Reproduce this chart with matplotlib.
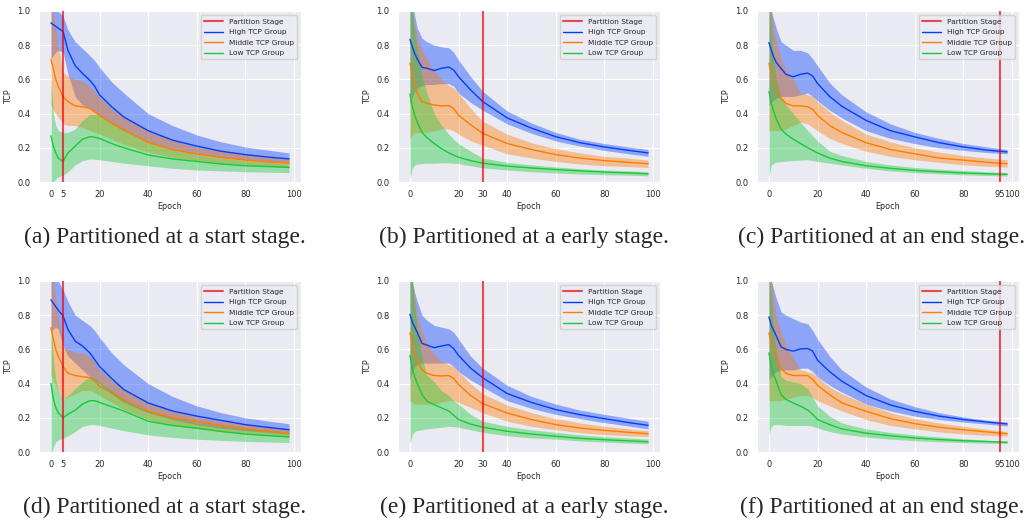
import matplotlib
matplotlib.use("Agg")
import matplotlib.pyplot as plt
import seaborn as sns

EPOCHS = [0, 1, 2, 3, 5, 7, 10, 13, 16, 18, 20, 25, 30, 40, 50, 60, 70, 80, 90, 98]

# ---- (a) partitioned at epoch 5 ----
A_HIGH    = [0.93, 0.92, 0.91, 0.90, 0.88, 0.77, 0.68, 0.635, 0.595, 0.56, 0.51, 0.44, 0.38, 0.30, 0.245, 0.21, 0.18, 0.16, 0.145, 0.135]
A_HIGH_HI = [1.15, 1.10, 1.05, 1.00, 0.97, 0.89, 0.82, 0.78, 0.74, 0.71, 0.67, 0.585, 0.52, 0.40, 0.33, 0.275, 0.235, 0.205, 0.185, 0.17]
A_HIGH_LO = [0.72, 0.74, 0.76, 0.77, 0.76, 0.63, 0.50, 0.45, 0.43, 0.41, 0.39, 0.34, 0.30, 0.235, 0.195, 0.165, 0.145, 0.13, 0.12, 0.11]
A_MID     = [0.717, 0.66, 0.60, 0.56, 0.50, 0.47, 0.445, 0.44, 0.43, 0.41, 0.39, 0.345, 0.305, 0.232, 0.19, 0.163, 0.143, 0.128, 0.117, 0.11]
A_MID_HI  = [1.10, 1.00, 0.90, 0.80, 0.64, 0.62, 0.60, 0.59, 0.56, 0.53, 0.50, 0.43, 0.38, 0.30, 0.245, 0.205, 0.18, 0.16, 0.145, 0.135]
A_MID_LO  = [0.45, 0.42, 0.40, 0.38, 0.34, 0.33, 0.33, 0.32, 0.30, 0.29, 0.28, 0.25, 0.22, 0.175, 0.145, 0.125, 0.11, 0.10, 0.092, 0.085]
A_LOW     = [0.27, 0.21, 0.17, 0.14, 0.12, 0.17, 0.21, 0.25, 0.265, 0.262, 0.255, 0.225, 0.20, 0.158, 0.135, 0.12, 0.105, 0.095, 0.09, 0.085]
A_LOW_HI  = [0.60, 0.40, 0.33, 0.30, 0.29, 0.29, 0.31, 0.36, 0.395, 0.395, 0.39, 0.35, 0.31, 0.235, 0.195, 0.16, 0.14, 0.125, 0.115, 0.105]
A_LOW_LO  = [-0.05, 0.0, 0.02, 0.03, 0.04, 0.06, 0.10, 0.125, 0.135, 0.133, 0.13, 0.12, 0.11, 0.095, 0.08, 0.07, 0.065, 0.06, 0.057, 0.055]

# ---- (b) partitioned at epoch 30 ----
B_HIGH    = [0.834, 0.79, 0.75, 0.72, 0.67, 0.665, 0.652, 0.665, 0.672, 0.655, 0.616, 0.538, 0.47, 0.375, 0.315, 0.265, 0.23, 0.205, 0.185, 0.17]
B_HIGH_HI = [1.25, 1.05, 0.97, 0.90, 0.84, 0.82, 0.80, 0.79, 0.785, 0.76, 0.713, 0.616, 0.53, 0.415, 0.345, 0.29, 0.25, 0.225, 0.205, 0.19]
B_HIGH_LO = [0.45, 0.50, 0.53, 0.55, 0.565, 0.57, 0.57, 0.575, 0.575, 0.56, 0.52, 0.465, 0.42, 0.34, 0.285, 0.24, 0.21, 0.185, 0.165, 0.15]
B_MID     = [0.695, 0.63, 0.57, 0.52, 0.47, 0.46, 0.45, 0.445, 0.447, 0.43, 0.39, 0.335, 0.284, 0.225, 0.19, 0.16, 0.14, 0.125, 0.115, 0.107]
B_MID_HI  = [1.30, 1.00, 0.92, 0.85, 0.77, 0.72, 0.65, 0.60, 0.565, 0.55, 0.52, 0.43, 0.355, 0.28, 0.23, 0.195, 0.17, 0.15, 0.14, 0.128]
B_MID_LO  = [0.25, 0.28, 0.29, 0.29, 0.29, 0.29, 0.30, 0.31, 0.31, 0.30, 0.28, 0.24, 0.215, 0.165, 0.14, 0.12, 0.105, 0.095, 0.09, 0.085]
B_LOW     = [0.515, 0.44, 0.39, 0.35, 0.29, 0.26, 0.225, 0.195, 0.17, 0.158, 0.145, 0.125, 0.11, 0.093, 0.082, 0.073, 0.065, 0.058, 0.053, 0.048]
B_LOW_HI  = [1.20, 1.00, 0.88, 0.78, 0.62, 0.52, 0.40, 0.33, 0.28, 0.25, 0.225, 0.18, 0.14, 0.115, 0.10, 0.088, 0.078, 0.07, 0.065, 0.06]
B_LOW_LO  = [0.02, 0.08, 0.10, 0.105, 0.108, 0.11, 0.11, 0.112, 0.112, 0.11, 0.108, 0.095, 0.083, 0.07, 0.06, 0.053, 0.047, 0.043, 0.04, 0.036]

# ---- (c) partitioned at epoch 95 ----
C_HIGH    = [0.816, 0.77, 0.73, 0.70, 0.664, 0.63, 0.615, 0.63, 0.637, 0.62, 0.576, 0.50, 0.443, 0.36, 0.30, 0.264, 0.23, 0.205, 0.186, 0.176]
C_HIGH_HI = [1.20, 1.00, 0.95, 0.90, 0.82, 0.80, 0.77, 0.77, 0.755, 0.72, 0.68, 0.58, 0.51, 0.41, 0.34, 0.29, 0.255, 0.225, 0.205, 0.19]
C_HIGH_LO = [0.45, 0.47, 0.48, 0.49, 0.50, 0.50, 0.50, 0.51, 0.52, 0.50, 0.475, 0.42, 0.375, 0.30, 0.255, 0.225, 0.20, 0.185, 0.172, 0.165]
C_MID     = [0.695, 0.63, 0.58, 0.55, 0.49, 0.46, 0.445, 0.445, 0.44, 0.425, 0.39, 0.33, 0.29, 0.23, 0.19, 0.165, 0.14, 0.128, 0.115, 0.107]
C_MID_HI  = [1.20, 1.00, 0.90, 0.82, 0.72, 0.66, 0.60, 0.52, 0.51, 0.50, 0.47, 0.41, 0.36, 0.28, 0.235, 0.20, 0.175, 0.155, 0.14, 0.13]
C_MID_LO  = [0.30, 0.30, 0.30, 0.30, 0.30, 0.31, 0.33, 0.35, 0.34, 0.32, 0.30, 0.255, 0.225, 0.18, 0.15, 0.13, 0.115, 0.10, 0.092, 0.087]
C_LOW     = [0.53, 0.46, 0.41, 0.37, 0.31, 0.28, 0.25, 0.225, 0.20, 0.185, 0.17, 0.14, 0.12, 0.095, 0.08, 0.068, 0.06, 0.053, 0.048, 0.045]
C_LOW_HI  = [1.10, 0.90, 0.70, 0.60, 0.50, 0.45, 0.40, 0.35, 0.30, 0.27, 0.24, 0.18, 0.155, 0.12, 0.10, 0.085, 0.075, 0.067, 0.06, 0.055]
C_LOW_LO  = [0.03, 0.10, 0.11, 0.115, 0.12, 0.122, 0.125, 0.128, 0.13, 0.125, 0.12, 0.11, 0.10, 0.08, 0.065, 0.055, 0.048, 0.042, 0.038, 0.035]

# ---- (d) partitioned at epoch 5 ----
D_HIGH    = [0.89, 0.87, 0.85, 0.83, 0.795, 0.717, 0.648, 0.62, 0.58, 0.54, 0.50, 0.43, 0.365, 0.287, 0.24, 0.21, 0.185, 0.16, 0.143, 0.13]
D_HIGH_HI = [1.15, 1.10, 1.05, 1.00, 0.95, 0.88, 0.80, 0.77, 0.74, 0.71, 0.67, 0.58, 0.51, 0.40, 0.325, 0.27, 0.23, 0.20, 0.18, 0.165]
D_HIGH_LO = [0.70, 0.72, 0.73, 0.72, 0.62, 0.56, 0.52, 0.48, 0.44, 0.42, 0.40, 0.34, 0.29, 0.23, 0.19, 0.16, 0.14, 0.125, 0.115, 0.105]
D_MID     = [0.727, 0.66, 0.60, 0.56, 0.50, 0.46, 0.447, 0.44, 0.435, 0.415, 0.385, 0.345, 0.307, 0.238, 0.20, 0.178, 0.155, 0.135, 0.12, 0.108]
D_MID_HI  = [1.10, 1.00, 0.90, 0.80, 0.61, 0.60, 0.58, 0.58, 0.56, 0.52, 0.48, 0.42, 0.37, 0.29, 0.24, 0.205, 0.18, 0.16, 0.145, 0.135]
D_MID_LO  = [0.45, 0.42, 0.39, 0.36, 0.31, 0.32, 0.34, 0.36, 0.36, 0.35, 0.33, 0.29, 0.25, 0.19, 0.155, 0.135, 0.12, 0.11, 0.10, 0.09]
D_LOW     = [0.40, 0.31, 0.26, 0.23, 0.20, 0.22, 0.245, 0.28, 0.30, 0.30, 0.29, 0.265, 0.24, 0.18, 0.155, 0.14, 0.12, 0.105, 0.095, 0.088]
D_LOW_HI  = [0.75, 0.55, 0.42, 0.36, 0.31, 0.33, 0.37, 0.41, 0.44, 0.43, 0.41, 0.36, 0.31, 0.24, 0.20, 0.17, 0.15, 0.135, 0.125, 0.115]
D_LOW_LO  = [-0.05, 0.03, 0.06, 0.07, 0.08, 0.095, 0.12, 0.15, 0.16, 0.16, 0.155, 0.14, 0.125, 0.10, 0.085, 0.075, 0.068, 0.062, 0.058, 0.055]

# ---- (e) partitioned at epoch 30 ----
E_HIGH    = [0.805, 0.76, 0.73, 0.70, 0.635, 0.625, 0.61, 0.62, 0.628, 0.605, 0.565, 0.49, 0.434, 0.342, 0.29, 0.248, 0.218, 0.195, 0.172, 0.156]
E_HIGH_HI = [1.20, 1.00, 0.93, 0.88, 0.80, 0.77, 0.74, 0.73, 0.72, 0.70, 0.66, 0.56, 0.49, 0.39, 0.325, 0.28, 0.245, 0.22, 0.197, 0.18]
E_HIGH_LO = [0.42, 0.47, 0.50, 0.51, 0.52, 0.52, 0.52, 0.52, 0.52, 0.50, 0.47, 0.42, 0.38, 0.30, 0.255, 0.22, 0.195, 0.172, 0.152, 0.135]
E_MID     = [0.697, 0.63, 0.57, 0.53, 0.48, 0.46, 0.447, 0.445, 0.447, 0.43, 0.395, 0.33, 0.283, 0.228, 0.19, 0.16, 0.14, 0.126, 0.115, 0.107]
E_MID_HI  = [1.20, 1.00, 0.90, 0.80, 0.70, 0.64, 0.57, 0.53, 0.51, 0.50, 0.47, 0.40, 0.34, 0.275, 0.23, 0.195, 0.17, 0.15, 0.135, 0.125]
E_MID_LO  = [0.30, 0.29, 0.28, 0.28, 0.28, 0.28, 0.28, 0.29, 0.30, 0.30, 0.29, 0.26, 0.23, 0.18, 0.15, 0.13, 0.113, 0.102, 0.095, 0.09]
E_LOW     = [0.565, 0.49, 0.44, 0.40, 0.336, 0.297, 0.277, 0.258, 0.24, 0.215, 0.19, 0.163, 0.145, 0.121, 0.105, 0.092, 0.08, 0.072, 0.065, 0.06]
E_LOW_HI  = [1.20, 1.00, 0.85, 0.72, 0.55, 0.45, 0.41, 0.36, 0.33, 0.30, 0.28, 0.22, 0.18, 0.15, 0.13, 0.115, 0.10, 0.09, 0.082, 0.075]
E_LOW_LO  = [0.05, 0.10, 0.12, 0.125, 0.13, 0.135, 0.14, 0.145, 0.15, 0.148, 0.145, 0.13, 0.115, 0.095, 0.083, 0.075, 0.065, 0.058, 0.052, 0.048]

# ---- (f) partitioned at epoch 95 ----
F_HIGH    = [0.79, 0.74, 0.71, 0.68, 0.615, 0.60, 0.59, 0.603, 0.605, 0.59, 0.537, 0.47, 0.414, 0.33, 0.275, 0.238, 0.21, 0.19, 0.175, 0.164]
F_HIGH_HI = [1.20, 1.00, 0.95, 0.90, 0.82, 0.80, 0.78, 0.76, 0.75, 0.71, 0.66, 0.56, 0.48, 0.38, 0.31, 0.265, 0.23, 0.205, 0.185, 0.175]
F_HIGH_LO = [0.42, 0.44, 0.46, 0.47, 0.48, 0.48, 0.48, 0.49, 0.49, 0.47, 0.44, 0.39, 0.35, 0.28, 0.24, 0.21, 0.19, 0.175, 0.163, 0.152]
F_MID     = [0.697, 0.63, 0.58, 0.55, 0.49, 0.46, 0.447, 0.447, 0.447, 0.425, 0.39, 0.335, 0.287, 0.238, 0.195, 0.166, 0.145, 0.13, 0.117, 0.107]
F_MID_HI  = [1.20, 1.00, 0.90, 0.80, 0.70, 0.63, 0.55, 0.48, 0.47, 0.46, 0.44, 0.38, 0.34, 0.28, 0.23, 0.195, 0.17, 0.15, 0.132, 0.12]
F_MID_LO  = [0.30, 0.30, 0.30, 0.30, 0.30, 0.31, 0.32, 0.33, 0.33, 0.32, 0.30, 0.27, 0.24, 0.19, 0.155, 0.135, 0.118, 0.105, 0.097, 0.093]
F_LOW     = [0.58, 0.50, 0.45, 0.414, 0.336, 0.307, 0.287, 0.268, 0.245, 0.22, 0.19, 0.16, 0.135, 0.11, 0.095, 0.082, 0.073, 0.066, 0.061, 0.057]
F_LOW_HI  = [1.10, 0.90, 0.70, 0.60, 0.44, 0.42, 0.41, 0.40, 0.37, 0.32, 0.27, 0.21, 0.17, 0.135, 0.115, 0.10, 0.088, 0.078, 0.068, 0.063]
F_LOW_LO  = [0.10, 0.15, 0.16, 0.16, 0.16, 0.155, 0.155, 0.155, 0.155, 0.15, 0.14, 0.12, 0.105, 0.088, 0.075, 0.066, 0.06, 0.055, 0.051, 0.05]

PARTITION = [5, 30, 95, 5, 30, 95]
XTICKS = [
    [0, 5, 20, 40, 60, 80, 100],
    [0, 20, 30, 40, 60, 80, 100],
    [0, 20, 40, 60, 80, 95, 100],
    [0, 5, 20, 40, 60, 80, 100],
    [0, 20, 30, 40, 60, 80, 100],
    [0, 20, 40, 60, 80, 95, 100],
]
CAPTIONS = [
    "(a) Partitioned at a start stage.",
    "(b) Partitioned at a early stage.",
    "(c) Partitioned at an end stage.",
    "(d) Partitioned at a start stage.",
    "(e) Partitioned at a early stage.",
    "(f) Partitioned at an end stage.",
]
GROUP_NAMES = ["High TCP Group", "Middle TCP Group", "Low TCP Group"]

PANELS = [
    [(A_HIGH, A_HIGH_LO, A_HIGH_HI), (A_MID, A_MID_LO, A_MID_HI), (A_LOW, A_LOW_LO, A_LOW_HI)],
    [(B_HIGH, B_HIGH_LO, B_HIGH_HI), (B_MID, B_MID_LO, B_MID_HI), (B_LOW, B_LOW_LO, B_LOW_HI)],
    [(C_HIGH, C_HIGH_LO, C_HIGH_HI), (C_MID, C_MID_LO, C_MID_HI), (C_LOW, C_LOW_LO, C_LOW_HI)],
    [(D_HIGH, D_HIGH_LO, D_HIGH_HI), (D_MID, D_MID_LO, D_MID_HI), (D_LOW, D_LOW_LO, D_LOW_HI)],
    [(E_HIGH, E_HIGH_LO, E_HIGH_HI), (E_MID, E_MID_LO, E_MID_HI), (E_LOW, E_LOW_LO, E_LOW_HI)],
    [(F_HIGH, F_HIGH_LO, F_HIGH_HI), (F_MID, F_MID_LO, F_MID_HI), (F_LOW, F_LOW_LO, F_LOW_HI)],
]

sns.set_style("darkgrid")
plt.rcParams["font.family"] = ["DejaVu Sans"]

pal = sns.color_palette("bright")
GROUP_COLORS = [pal[0], pal[1], pal[2]]
RED = pal[3]

W, H = 1029, 524
fig = plt.figure(figsize=(W / 100, H / 100), dpi=100)

AX_LEFT = [39, 398, 757]
AX_TOP = [11, 281]
AX_W, AX_H = 262, 171
CAP_Y = [237, 507]
CAP_X = [165, 524, 882]

for k, groups in enumerate(PANELS):
    row, col = divmod(k, 3)
    ax = fig.add_axes([AX_LEFT[col] / W, 1 - (AX_TOP[row] + AX_H) / H, AX_W / W, AX_H / H])

    ax.axvline(PARTITION[k], color=RED, lw=1.5, alpha=0.7, zorder=5,
               label="Partition Stage")
    for (mean, lo, hi), name, c in zip(groups, GROUP_NAMES, GROUP_COLORS):
        ax.fill_between(EPOCHS, lo, hi, color=c, alpha=0.4, linewidth=0, zorder=1)
        ax.plot(EPOCHS, mean, color=c, lw=1.0, label=name, zorder=3)

    ax.set_ylim(0, 1.0)
    ax.set_yticks([0.0, 0.2, 0.4, 0.6, 0.8, 1.0])
    ax.set_xticks(XTICKS[k])
    ax.tick_params(labelsize=6.0, pad=2.5)
    ax.set_xlabel("Epoch", fontsize=5.8, labelpad=2)
    ax.set_ylabel("TCP", fontsize=5.8, labelpad=3)
    ax.legend(loc="upper right", fontsize=5.3, handlelength=2.6,
              borderaxespad=0.6, labelspacing=0.6)

    fig.text(CAP_X[col] / W, 1 - CAP_Y[row] / H, CAPTIONS[k],
             family="Liberation Serif", fontsize=17, ha="center", va="center")

fig.savefig("out.png", dpi=100)
